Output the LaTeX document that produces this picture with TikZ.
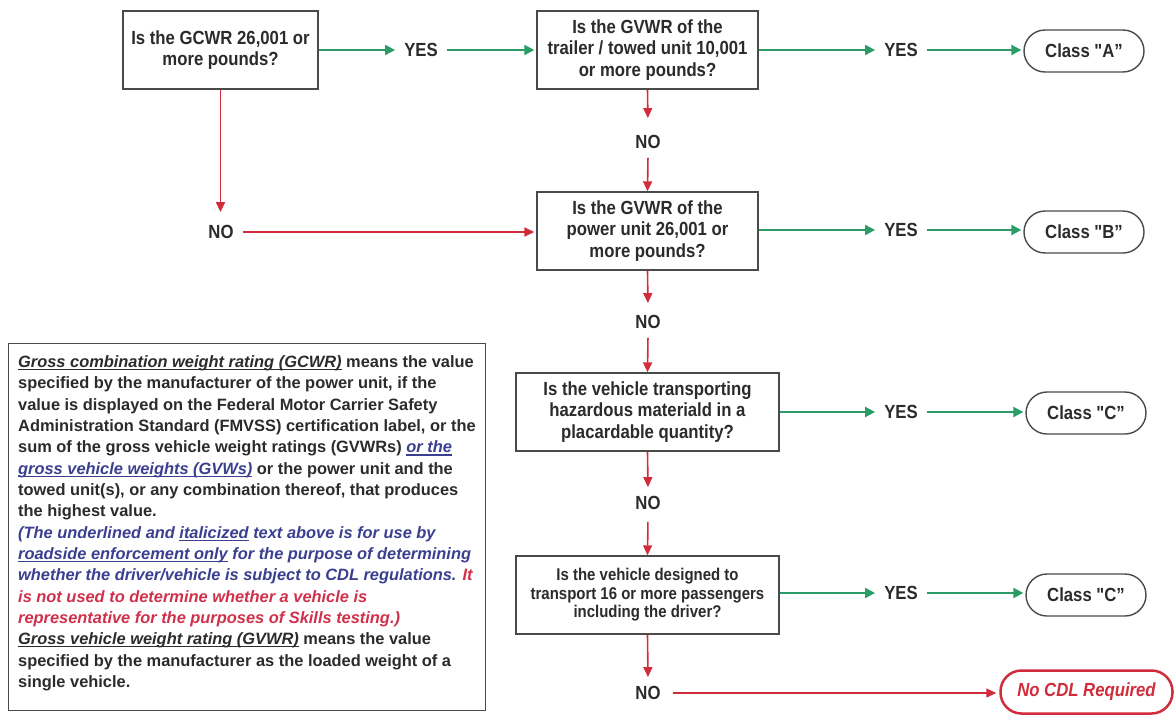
\documentclass[tikz,border=0pt]{standalone}
\usepackage{fontspec}
\setmainfont{Liberation Sans}
\newfontfamily\condfont{Liberation Sans}[FakeStretch=0.88]
\usetikzlibrary{arrows.meta}
\definecolor{txtdark}{HTML}{2B2B2B}
\definecolor{txtblue}{HTML}{3A3F8F}
\definecolor{txtred}{HTML}{D0304A}
\definecolor{arrgreen}{HTML}{2A9D66}
\definecolor{arrred}{HTML}{D02C3C}
\definecolor{boxgray}{HTML}{4A4A4A}
\newcommand\myul[1]{\setbox0=\hbox{#1}\rlap{\rule[-2.6pt]{\wd0}{1.2pt}}\box0\relax}
\begin{document}
\begin{tikzpicture}[x=1pt,y=-1pt,
  qbox/.style={draw=boxgray, line width=1.4pt, fill=white, align=center, inner sep=0pt,
    text=txtdark, font=\condfont\bfseries\fontsize{19}{21.7}\selectfont},
  smallq/.style={font=\condfont\bfseries\fontsize{17}{18.5}\selectfont},
  lab/.style={font=\condfont\bfseries\fontsize{19}{21}\selectfont, text=txtdark,
    inner xsep=9pt, inner ysep=6pt},
  pill/.style={draw=boxgray, line width=1.4pt, rounded corners=21pt, minimum width=120pt,
    minimum height=42pt, inner sep=0pt, text=txtdark,
    font=\condfont\bfseries\fontsize{19}{21}\selectfont},
  garr/.style={draw=arrgreen, line width=2pt, -{Triangle[length=10pt,width=10pt]}},
  rarr/.style={draw=arrred, line width=1.6pt, -{Triangle[length=10pt,width=9pt]}},
]
\useasboundingbox (0,0) rectangle (1175,715);
\fill[white] (0,0) rectangle (1175,715);
% question boxes
\node[qbox, minimum width=195pt, minimum height=78pt] (b1) at (220.5,50) {Is the GCWR 26,001 or\\more pounds?};
\node[qbox, minimum width=221pt, minimum height=78pt] (b2) at (647.5,50) {Is the GVWR of the\\trailer / towed unit 10,001\\or more pounds?};
\node[qbox, minimum width=221pt, minimum height=78pt] (b3) at (647.5,231) {Is the GVWR of the\\power unit 26,001 or\\more pounds?};
\node[qbox, minimum width=263pt, minimum height=78pt] (b4) at (647.5,412) {Is the vehicle transporting\\hazardous materiald in a\\placardable quantity?};
\node[qbox, smallq, minimum width=263pt, minimum height=78pt] (b5) at (647.5,595) {Is the vehicle designed to\\transport 16 or more passengers\\including the driver?};
% labels
\node[lab] (y1) at (421,50) {YES};
\node[lab] (y2) at (901,50) {YES};
\node[lab] (y3) at (901,230) {YES};
\node[lab] (y4) at (901,412) {YES};
\node[lab] (y5) at (901,593) {YES};
\node[lab] (n0) at (221,232) {NO};
\node[lab] (n1) at (648,142) {NO};
\node[lab] (n4) at (648,322) {NO};
\node[lab] (n2) at (648,503) {NO};
\node[lab] (n3) at (648,693) {NO};
% results
\node[pill] (cA) at (1084,51) {Class "A”};
\node[pill] (cB) at (1084,232) {Class "B”};
\node[pill] (cC1) at (1086,413) {Class "C”};
\node[pill] (cC2) at (1086,595) {Class "C”};
\node[pill, draw=arrred, line width=2.5pt, minimum width=172pt, minimum height=43pt, text=arrred,
  font=\condfont\bfseries\itshape\fontsize{19}{21}\selectfont] (ncdl) at (1086.5,692) {No CDL Required};
% green connectors
\draw[garr] (b1.east |- y1.west) -- (y1.west);
\draw[garr, shorten >=2pt] (y1.east) -- (y1.east -| b2.west);
\draw[garr] (b2.east |- y2.west) -- (y2.west);
\draw[garr, shorten >=2pt] (y2.east) -- (y2.east -| cA.west);
\draw[garr] (b3.east |- y3.west) -- (y3.west);
\draw[garr, shorten >=2pt] (y3.east) -- (y3.east -| cB.west);
\draw[garr] (b4.east |- y4.west) -- (y4.west);
\draw[garr, shorten >=2pt] (y4.east) -- (y4.east -| cC1.west);
\draw[garr] (b5.east |- y5.west) -- (y5.west);
\draw[garr, shorten >=2pt] (y5.east) -- (y5.east -| cC2.west);
% red connectors
\draw[rarr, shorten >=7pt] (b1.south) -- (b1.south |- n0.north);
\draw[rarr, shorten >=2pt] (n0.east) -- (n0.east -| b3.west);
\draw[rarr, shorten >=11pt] (b2.south) -- (n1.north);
\draw[rarr, shorten <=3pt] (n1.south) -- (b3.north);
\draw[rarr, shorten >=6pt] (b3.south) -- (n4.north);
\draw[rarr, shorten <=3pt] (n4.south) -- (b4.north);
\draw[rarr, shorten >=3pt] (b4.south) -- (n2.north);
\draw[rarr, shorten <=6pt] (n2.south) -- (b5.north);
\draw[rarr, shorten >=3pt] (b5.south) -- (n3.north);
\draw[rarr, shorten <=3pt, shorten >=3pt, line width=1.3pt] (n3.east) -- (n3.east -| ncdl.west);
% definition box
\node[draw=boxgray, line width=1.2pt, minimum width=477pt, minimum height=367pt, anchor=north west, inner sep=0pt] (defbox) at (8,343) {};
\node[anchor=north west, inner sep=0pt, align=left, text=txtdark,
  font=\bfseries\fontsize{16.4}{21.33}\selectfont] (deftext) at (18,355.5) {%
\myul{\textit{Gross combination weight rating (GCWR)}} means the value\\
specified by the manufacturer of the power unit, if the\\
value is displayed on the Federal Motor Carrier Safety\\
Administration Standard (FMVSS) certification label, or the\\
sum of the gross vehicle weight ratings (GVWRs) \textcolor{txtblue}{\myul{\textit{or the}}}\\
\textcolor{txtblue}{\myul{\textit{gross vehicle weights (GVWs)}}} or the power unit and the\\
towed unit(s), or any combination thereof, that produces\\
the highest value.\\
\textcolor{txtblue}{\textit{(The underlined and \myul{italicized} text above is for use by}}\\
\textcolor{txtblue}{\textit{\myul{roadside enforcement only} for the purpose of determining}}\\
\textcolor{txtblue}{\textit{whether the driver/vehicle is subject to CDL regulations.}} \textcolor{txtred}{\textit{It}}\\
\textcolor{txtred}{\textit{is not used to determine whether a vehicle is}}\\
\textcolor{txtred}{\textit{representative for the purposes of Skills testing.)}}\\
\myul{\textit{Gross vehicle weight rating (GVWR)}} means the value\\
specified by the manufacturer as the loaded weight of a\\
single vehicle.};
\end{tikzpicture}
\end{document}
